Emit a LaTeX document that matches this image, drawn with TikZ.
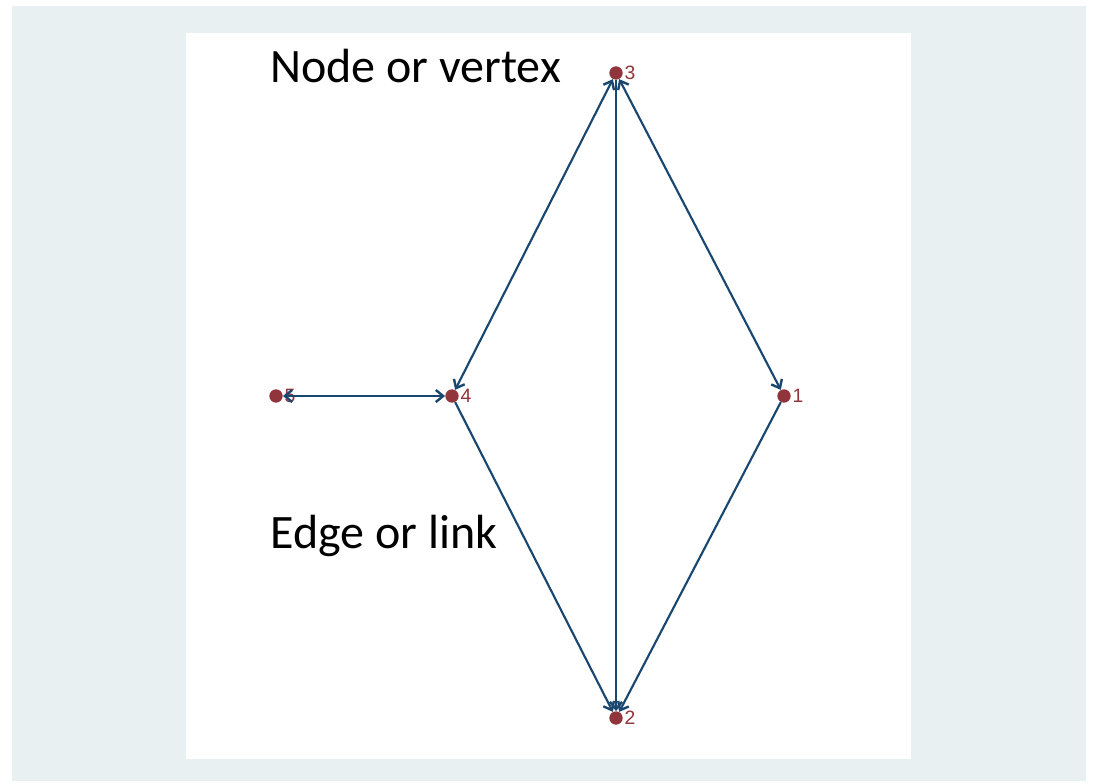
\documentclass[tikz,border=0pt]{standalone}
\usepackage{fontspec}
\setmainfont{Carlito}
\newfontfamily\labfont{Liberation Sans}
\usetikzlibrary{arrows.meta,positioning}
\definecolor{edgeblue}{RGB}{26,71,111}
\definecolor{dotred}{RGB}{144,53,59}
\definecolor{bgblue}{RGB}{232,240,242}

\begin{document}
\begin{tikzpicture}[x=0.75pt,y=-0.75pt,>={Straight Barb[length=5.5pt,width=9pt,line width=1.8pt]},
  vtx/.style={circle,fill=dotred,inner sep=0pt,minimum size=10pt,
    label={[text=dotred,font=\labfont\fontsize{14.5}{14.5}\selectfont,inner sep=1pt]right:#1}},
  lnk/.style={draw=edgeblue,line width=1.6pt}]
  \useasboundingbox (0,0) rectangle (1095,783);
  \fill[bgblue] (12,6) rectangle (1086,781);
  \fill[white] (186,33) rectangle (911,759);
  % vertices
  \node[vtx=3] (n3) at (616,73) {};
  \node[vtx=4] (n4) at (452,396) {};
  \node[vtx=5] (n5) at (276,396) {};
  \node[vtx=1] (n1) at (784,396) {};
  \node[vtx=2] (n2) at (616,718) {};
  % edges
  \draw[lnk,<->] (n5) -- (n4);
  \draw[lnk,<->] (n4) -- (n3);
  \draw[lnk,<->] (n3) -- (n1);
  \draw[lnk,->] (n3) -- (n2);
  \draw[lnk,->] (n4) -- (n2);
  \draw[lnk,->] (n1) -- (n2);
  % captions
  \node[anchor=base west,inner sep=0pt,font=\fontsize{36}{36}\selectfont] (nodetxt) at (270,82) {Node or vertex};
  \node[anchor=base west,inner sep=0pt,font=\fontsize{36}{36}\selectfont] (edgetxt) at (270,548) {Edge or link};
\end{tikzpicture}
\end{document}
